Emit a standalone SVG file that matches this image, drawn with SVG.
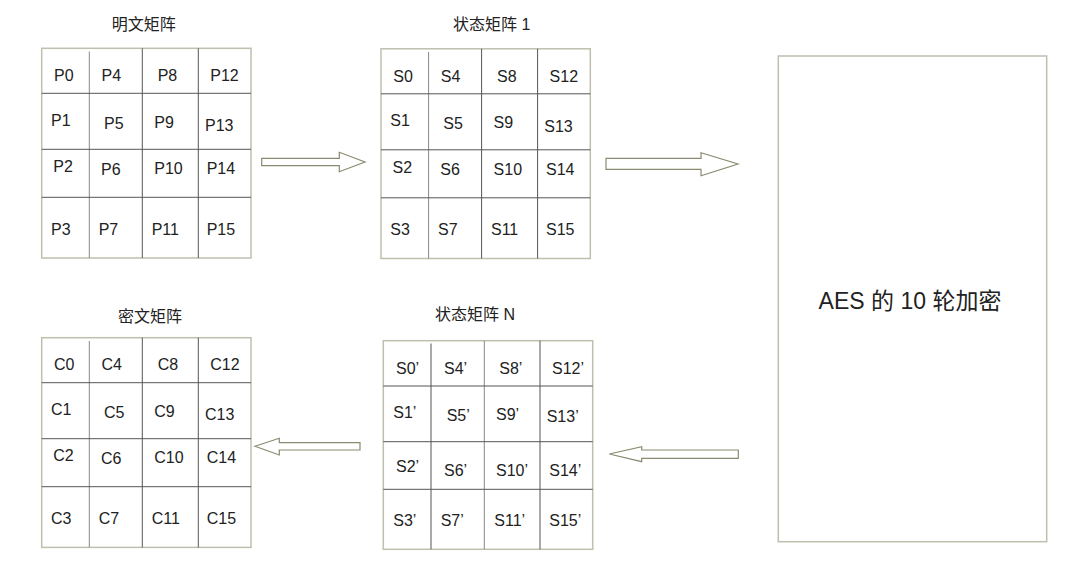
<svg xmlns="http://www.w3.org/2000/svg" width="1084" height="573" viewBox="0 0 1084 573">
  <style>
    .t { font-family: "Liberation Sans", "Noto Sans CJK SC", sans-serif; fill: #222; }
    .cell { font-size: 16px; }
    .title { font-size: 16px; text-anchor: middle; }
    .big { font-size: 23px; text-anchor: middle; }
    .outer { fill: #fff; stroke: #bfbfae; stroke-width: 1.5; }
    .in { stroke: #555; stroke-width: 1; }
    .in2 { stroke: #888; stroke-width: 1; }
    .arrow { fill: #fff; stroke: #8a8a70; stroke-width: 1.2; stroke-linejoin: miter; }
  </style>
  <rect width="1084" height="573" fill="#fff"/>

  <g id="plain">
    <text class="t title" x="143.8" y="30">明文矩阵</text>
    <rect class="outer" x="41.7" y="48.3" width="209.3" height="209.7"/>
    <line class="in2" x1="89.3" y1="51.5" x2="89.3" y2="258"/>
    <line class="in" x1="142.3" y1="48.3" x2="142.3" y2="258"/>
    <line class="in" x1="198.3" y1="48.3" x2="198.3" y2="258"/>
    <line class="in" x1="41.7" y1="93.3" x2="251" y2="93.3"/>
    <line class="in" x1="41.7" y1="149.3" x2="251" y2="149.3"/>
    <line class="in" x1="41.7" y1="197.3" x2="251" y2="197.3"/>
    <g class="t cell">
      <text x="54" y="81">P0</text><text x="101.5" y="81">P4</text><text x="157.7" y="81">P8</text><text x="210.3" y="81">P12</text>
      <text x="51" y="125.5">P1</text><text x="104" y="128.5">P5</text><text x="154.3" y="127.5">P9</text><text x="205" y="131">P13</text>
      <text x="53.3" y="172">P2</text><text x="101" y="174.5">P6</text><text x="154.3" y="174">P10</text><text x="206.7" y="174">P14</text>
      <text x="51" y="234.5">P3</text><text x="98.7" y="234.5">P7</text><text x="151.7" y="234.5">P11</text><text x="206.7" y="234.5">P15</text>
    </g>
  </g>

  <g id="state1">
    <text class="t title" x="491.7" y="30">状态矩阵 1</text>
    <g transform="translate(339.3,0.5)">
      <rect class="outer" x="41.7" y="48.3" width="209.3" height="209.7"/>
      <line class="in2" x1="89.3" y1="51.5" x2="89.3" y2="258"/>
      <line class="in" x1="142.3" y1="48.3" x2="142.3" y2="258"/>
      <line class="in" x1="198.3" y1="48.3" x2="198.3" y2="258"/>
      <line class="in" x1="41.7" y1="93.3" x2="251" y2="93.3"/>
      <line class="in" x1="41.7" y1="149.3" x2="251" y2="149.3"/>
      <line class="in" x1="41.7" y1="197.3" x2="251" y2="197.3"/>
      <g class="t cell">
        <text x="54" y="81">S0</text><text x="101.5" y="81">S4</text><text x="157.7" y="81">S8</text><text x="210.3" y="81">S12</text>
        <text x="51" y="125.5">S1</text><text x="104" y="128.5">S5</text><text x="154.3" y="127.5">S9</text><text x="205" y="131">S13</text>
        <text x="53.3" y="172">S2</text><text x="101" y="174.5">S6</text><text x="154.3" y="174">S10</text><text x="206.7" y="174">S14</text>
        <text x="51" y="234.5">S3</text><text x="98.7" y="234.5">S7</text><text x="151.7" y="234.5">S11</text><text x="206.7" y="234.5">S15</text>
      </g>
    </g>
  </g>

  <g id="cipher">
    <text class="t title" x="150" y="322">密文矩阵</text>
    <g transform="translate(0,289.4)">
      <rect class="outer" x="41.7" y="48.3" width="209.3" height="209.7"/>
      <line class="in2" x1="89.3" y1="51.5" x2="89.3" y2="258"/>
      <line class="in" x1="142.3" y1="48.3" x2="142.3" y2="258"/>
      <line class="in" x1="198.3" y1="48.3" x2="198.3" y2="258"/>
      <line class="in" x1="41.7" y1="93.3" x2="251" y2="93.3"/>
      <line class="in" x1="41.7" y1="149.3" x2="251" y2="149.3"/>
      <line class="in" x1="41.7" y1="197.3" x2="251" y2="197.3"/>
      <g class="t cell">
        <text x="54" y="81">C0</text><text x="101.5" y="81">C4</text><text x="157.7" y="81">C8</text><text x="210.3" y="81">C12</text>
        <text x="51" y="125.5">C1</text><text x="104" y="128.5">C5</text><text x="154.3" y="127.5">C9</text><text x="205" y="131">C13</text>
        <text x="53.3" y="172">C2</text><text x="101" y="174.5">C6</text><text x="154.3" y="174">C10</text><text x="206.7" y="174">C14</text>
        <text x="51" y="234.5">C3</text><text x="98.7" y="234.5">C7</text><text x="151.7" y="234.5">C11</text><text x="206.7" y="234.5">C15</text>
      </g>
    </g>
  </g>

  <g id="stateN">
    <text class="t title" x="475" y="320">状态矩阵 N</text>
    <rect class="outer" x="383.3" y="340.7" width="209.4" height="208.6"/>
    <line class="in" x1="431" y1="343.5" x2="431" y2="549.3"/>
    <line class="in2" x1="484.3" y1="340.7" x2="484.3" y2="549.3"/>
    <line class="in" x1="540" y1="340.7" x2="540" y2="549.3"/>
    <line class="in" x1="383.3" y1="386" x2="592.7" y2="386"/>
    <line class="in" x1="383.3" y1="441.7" x2="592.7" y2="441.7"/>
    <line class="in" x1="383.3" y1="489.3" x2="592.7" y2="489.3"/>
    <g class="t cell">
      <text x="396" y="373.5">S0’</text><text x="444" y="373.5">S4’</text><text x="499.3" y="373.5">S8’</text><text x="552" y="373.5">S12’</text>
      <text x="393.3" y="418">S1’</text><text x="446.7" y="420.5">S5’</text><text x="496" y="419.5">S9’</text><text x="546.7" y="422">S13’</text>
      <text x="396" y="472">S2’</text><text x="444" y="475.5">S6’</text><text x="496" y="475.5">S10’</text><text x="549.3" y="475.5">S14’</text>
      <text x="393.3" y="525.5">S3’</text><text x="440.7" y="525.5">S7’</text><text x="494.3" y="525.5">S11’</text><text x="549.3" y="525.5">S15’</text>
    </g>
  </g>

  <g id="rounds">
    <rect x="778.3" y="56" width="268.4" height="485.7" fill="#fff" stroke="#bfbfae" stroke-width="1.5"/>
    <text class="t big" x="910" y="309">AES 的 10 轮加密</text>
  </g>

  <g id="connectors">
    <polygon class="arrow" points="261.7,158.3 339.3,158.3 339.3,152.3 365,162 339.3,171.7 339.3,165.7 261.7,165.7"/>
    <polygon class="arrow" points="606,158.3 701,158.3 701,152.7 738,164 701,175.7 701,169.3 606,169.3"/>
    <polygon class="arrow" points="255,446.3 279.3,438.3 279.3,442.7 360,442.7 360,450 279.3,450 279.3,455"/>
    <polygon class="arrow" points="609.3,454 641.7,446.7 641.7,450 738.3,450 738.3,458.3 641.7,458.3 641.7,461.7"/>
  </g>
</svg>
